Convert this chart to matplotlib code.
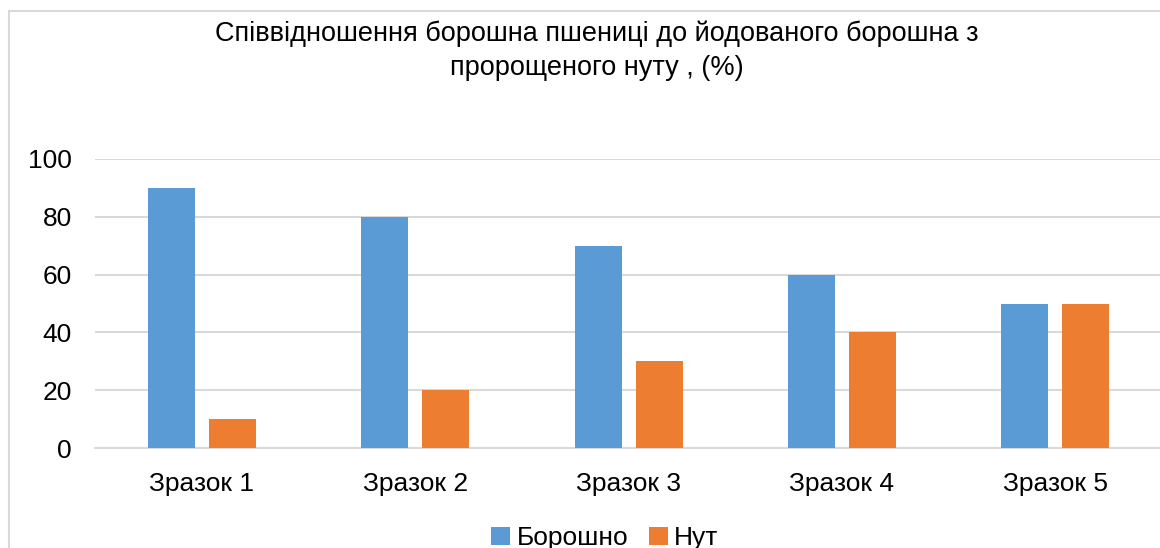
import matplotlib
matplotlib.use("Agg")
import matplotlib.pyplot as plt
from matplotlib.patches import Rectangle
import numpy as np

plt.rcParams['font.family'] = ['Liberation Sans', 'DejaVu Sans']

categories = ["Зразок 1", "Зразок 2", "Зразок 3", "Зразок 4", "Зразок 5"]
flour = [90, 80, 70, 60, 50]
chickpea = [10, 20, 30, 40, 50]
series_names = ["Борошно", "Нут"]
title = "Співвідношення борошна пшениці до йодованого борошна з\nпророщеного нуту , (%)"

blue = "#5B9BD5"
orange = "#ED7D31"
grid_c = "#D9D9D9"
fs = 19

W, H = 1160, 548
fig = plt.figure(figsize=(W / 100, H / 100), dpi=100)

# chart area frame
fig.patches.append(Rectangle((9 / W, -0.1), 1.2, 1 - 11 / H + 0.1,
                             transform=fig.transFigure, fill=False,
                             edgecolor=grid_c, linewidth=1.5))

left, right = 95.3 / W, 1162 / W
top, bottom = 1 - 159 / H, 1 - 448 / H
ax = fig.add_axes([left, bottom, right - left, top - bottom])

x = np.arange(len(categories))
bw = 0.22
off = 0.143
ax.bar(x - off, flour, bw, color=blue, label=series_names[0], zorder=3)
ax.bar(x + off, chickpea, bw, color=orange, label=series_names[1], zorder=3)

ax.set_xlim(-0.5, len(categories) - 0.5)
ax.set_ylim(0, 100)
ax.set_yticks(range(0, 101, 20))
ax.yaxis.grid(True, color=grid_c, linewidth=1.5, zorder=0)
ax.set_axisbelow(True)
for s in ["top", "right", "left"]:
    ax.spines[s].set_visible(False)
ax.spines["bottom"].set_color(grid_c)
ax.spines["bottom"].set_linewidth(1.5)
ax.tick_params(axis="both", length=0, labelsize=fs)
ax.tick_params(axis="y", pad=17)
ax.tick_params(axis="x", pad=17)
ax.set_xticks(x)
ax.set_xticklabels(categories)

fig.text(597 / W, 1 - 51 / H, title, ha="center", va="center",
         fontsize=19.5, linespacing=1.42)

fig.legend(loc="center", bbox_to_anchor=(605 / W, 1 - 538 / H), ncol=2,
           frameon=False, fontsize=fs, handlelength=0.7, handleheight=0.7,
           handletextpad=0.25, columnspacing=0.8)

fig.savefig("out.png", dpi=100)
